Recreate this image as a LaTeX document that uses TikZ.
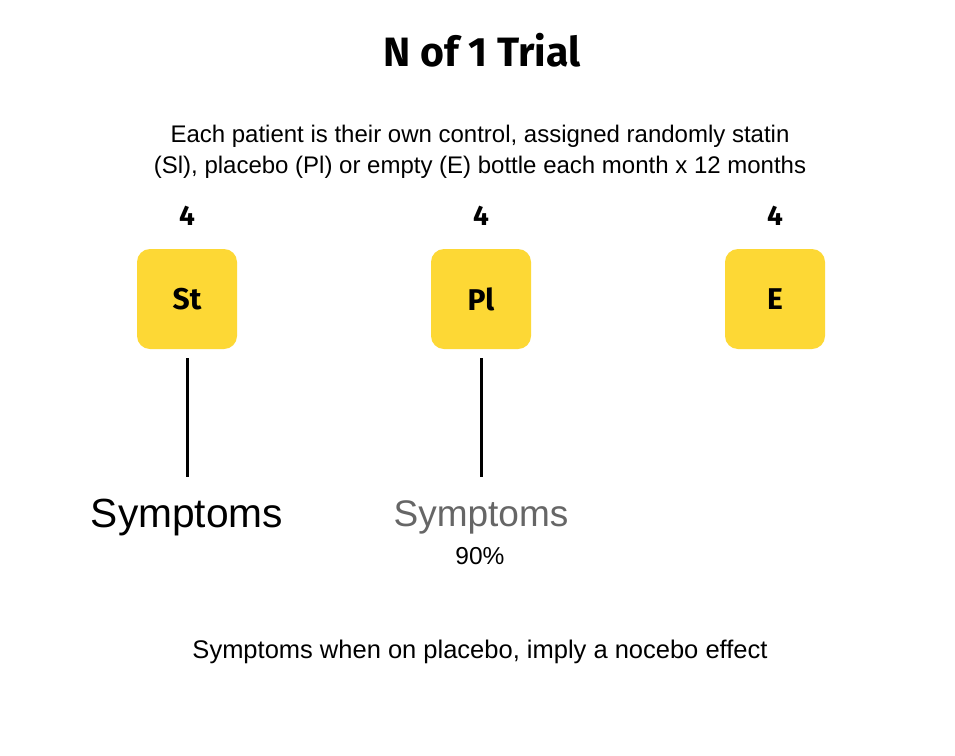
\documentclass[tikz,border=0pt]{standalone}
\usepackage{fontspec}
\setmainfont{Liberation Sans}
\newfontfamily\handfont{Fira Sans}
\usepackage{xcolor}
\usepackage{tikz}
\usetikzlibrary{positioning}
\definecolor{BottleGold}{RGB}{253,216,53}
\definecolor{FadedGray}{RGB}{102,102,102}
\tikzset{
  bottle/.style={fill=BottleGold, draw=none, rounded corners=13pt, minimum width=100pt, minimum height=100pt, inner sep=0pt, font=\handfont\bfseries\fontsize{30}{32}\selectfont},
  count/.style={font=\handfont\bfseries\fontsize{28}{30}\selectfont},
  stem/.style={draw=black, line width=3pt},
  label/.style={black, font=\fontsize{25.5}{31}\selectfont, align=center}
}
\begin{document}
\begin{tikzpicture}[x=1pt, y=-1pt]
  \useasboundingbox[fill=white] (0,0) rectangle (955,755);
  % heading
  \node[font=\handfont\bfseries\fontsize{41}{42}\selectfont] (title) at (482,50) {N of 1 Trial};
  \node[label, font=\fontsize{24}{31}\selectfont] (intro) at (480,152) {Each patient is their own control, assigned randomly statin\\(Sl), placebo (Pl) or empty (E) bottle each month x 12 months};
  % bottles
  \node[bottle] (st) at (187,299) {St};
  \node[bottle] (pl) at (481,299) {Pl};
  \node[bottle] (e) at (775,299) {E};
  \node[count] (nst) at (187,216) {4};
  \node[count] (npl) at (481,216) {4};
  \node[count] (ne) at (775,216) {4};
  % outcomes
  \node[font=\fontsize{40.7}{44}\selectfont, inner sep=0pt] (sst) at (187,518) {Symptoms};
  \node[font=\fontsize{37}{40}\selectfont, text=FadedGray, inner sep=0pt] (spl) at (481,517) {Symptoms};
  \node[label, font=\fontsize{24.5}{28}\selectfont] (pct) at (480,556) {90\%};
  \coordinate (stTop) at (187,358);
  \coordinate (stBot) at (187,477);
  \coordinate (plTop) at (481,358);
  \coordinate (plBot) at (481,477);
  \draw[stem] (stTop) -- (stBot);
  \draw[stem] (plTop) -- (plBot);
  \node[label] (note) at (480,652) {Symptoms when on placebo, imply a nocebo effect};
\end{tikzpicture}
\end{document}
